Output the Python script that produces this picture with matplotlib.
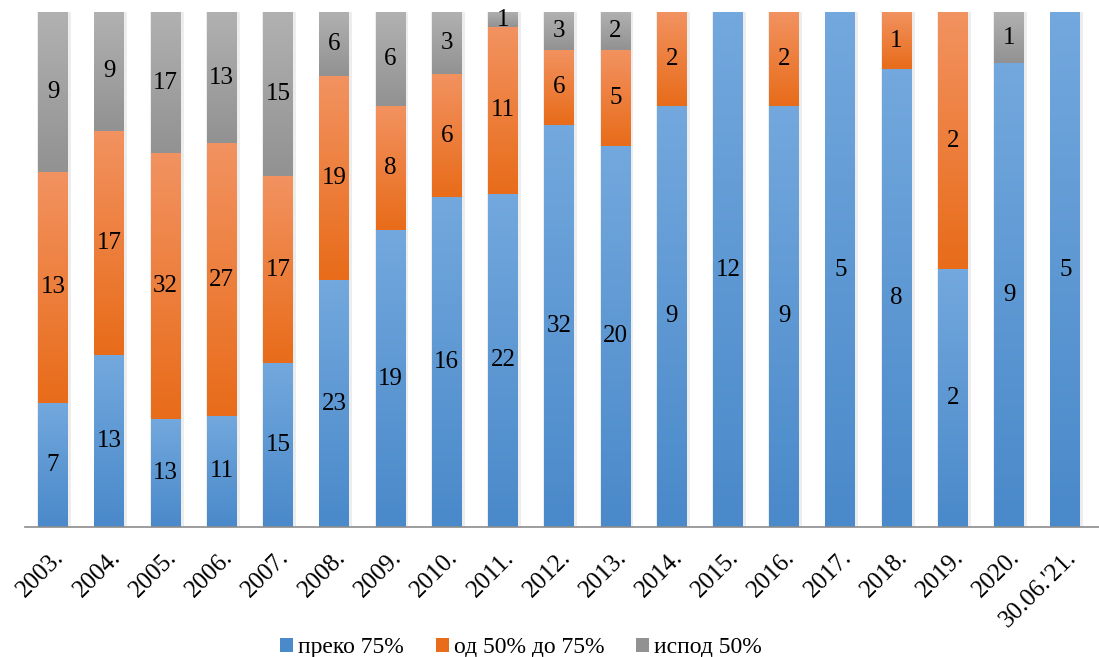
import matplotlib
matplotlib.use('Agg')
import matplotlib.pyplot as plt
from matplotlib.colors import LinearSegmentedColormap
from matplotlib.patches import Patch
import numpy as np

plt.rcParams['font.family'] = ['Liberation Serif', 'DejaVu Serif']

years = ['2003.', '2004.', '2005.', '2006.', '2007.', '2008.', '2009.', '2010.',
         '2011.', '2012.', '2013.', '2014.', '2015.', '2016.', '2017.', '2018.',
         '2019.', '2020.', "30.06.'21."]
over75 = [7, 13, 13, 11, 15, 23, 19, 16, 22, 32, 20, 9, 12, 9, 5, 8, 2, 9, 5]
mid50_75 = [13, 17, 32, 27, 17, 19, 8, 6, 11, 6, 5, 2, 0, 2, 0, 1, 2, 0, 0]
under50 = [9, 9, 17, 13, 15, 6, 6, 3, 1, 3, 2, 0, 0, 0, 0, 0, 0, 1, 0]

series = [
    ('преко 75%', over75, ('#4a89ca', '#72a8dd')),
    ('од 50% до 75%', mid50_75, ('#e86c1a', '#f29260')),
    ('испод 50%', under50, ('#929292', '#b1b1b1')),
]

fig = plt.figure(figsize=(10.99, 6.57), dpi=100)
ax = fig.add_axes([25 / 1099, 130 / 657, 1074 / 1099, 515 / 657])

x = np.arange(len(years))
totals = np.array(over75) + np.array(mid50_75) + np.array(under50)
w = 0.53
grad = np.linspace(0, 1, 64).reshape(-1, 1)

# soft shadow behind bars
ax.bar(x + 0.02, 1.0, width=w + 0.07, color='#000000', alpha=0.07, zorder=1)

bottom = np.zeros(len(years))
for name, vals, (dark, light) in series:
    frac = np.array(vals) / totals
    cmap = LinearSegmentedColormap.from_list(name, [dark, light])
    bars = ax.bar(x, frac, width=w, bottom=bottom, color=dark, zorder=2)
    for b, v, f, bt in zip(bars, vals, frac, bottom):
        if v == 0:
            continue
        x0 = b.get_x()
        ax.imshow(grad, extent=(x0, x0 + w, bt, bt + f), origin='lower',
                  aspect='auto', cmap=cmap, zorder=3, interpolation='bilinear')
        ax.text(b.get_x() + w / 2, bt + f / 2, str(v), ha='center', va='center',
                fontsize=18, zorder=4)
    bottom += frac

ax.set_xlim(-0.5, len(years) - 0.5 + 0.1)
ax.set_ylim(0, 1)
ax.set_yticks([])
ax.set_xticks(x)
ax.set_xticklabels(years, rotation=45, ha='right', rotation_mode='anchor', fontsize=18)
ax.tick_params(axis='x', length=0, pad=14)
for s in ['top', 'right', 'left']:
    ax.spines[s].set_visible(False)
ax.spines['bottom'].set_color('#8c8c8c')
ax.spines['bottom'].set_linewidth(1.2)
ax.spines['bottom'].set_zorder(5)

handles = [Patch(facecolor=c[2][0], label=c[0]) for c in series]
fig.legend(handles=handles, loc='center', bbox_to_anchor=(0.474, 0.014),
           ncol=3, frameon=False, fontsize=17, handlelength=0.55, handleheight=0.55,
           handletextpad=0.2, columnspacing=1.35)

plt.savefig('out.png', dpi=100)
